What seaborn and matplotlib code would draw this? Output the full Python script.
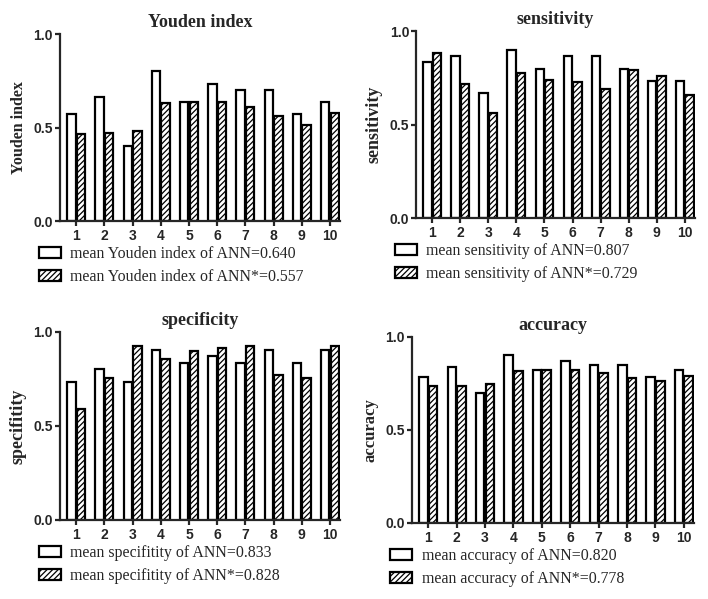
import matplotlib
matplotlib.use("Agg")
import matplotlib.pyplot as plt
import pandas as pd
import seaborn as sns

# values per fold
folds = [str(i) for i in range(1, 11)]

youden_ann = [0.571, 0.666, 0.402, 0.804, 0.636, 0.732, 0.702, 0.702, 0.571, 0.636]
youden_star = [0.466, 0.471, 0.480, 0.630, 0.636, 0.636, 0.611, 0.562, 0.516, 0.580]

sens_ann = [0.833, 0.867, 0.669, 0.900, 0.800, 0.867, 0.867, 0.800, 0.735, 0.735]
sens_star = [0.883, 0.715, 0.560, 0.778, 0.737, 0.726, 0.690, 0.792, 0.760, 0.658]

spec_ann = [0.735, 0.803, 0.735, 0.902, 0.835, 0.869, 0.835, 0.902, 0.835, 0.902]
spec_star = [0.588, 0.755, 0.925, 0.856, 0.900, 0.915, 0.925, 0.769, 0.755, 0.925]

acc_ann = [0.783, 0.835, 0.697, 0.901, 0.819, 0.869, 0.849, 0.849, 0.783, 0.819]
acc_star = [0.733, 0.737, 0.744, 0.817, 0.819, 0.819, 0.805, 0.780, 0.760, 0.789]

panels = [
    ("Youden index", "Youden index", youden_ann, youden_star,
     "mean Youden index of ANN=0.640", "mean Youden index of ANN*=0.557"),
    ("sensitivity", "sensitivity", sens_ann, sens_star,
     "mean sensitivity of ANN=0.807", "mean sensitivity of ANN*=0.729"),
    ("specificity", "specifitity", spec_ann, spec_star,
     "mean specifitity of ANN=0.833", "mean specifitity of ANN*=0.828"),
    ("accuracy", "accuracy", acc_ann, acc_star,
     "mean accuracy of ANN=0.820", "mean accuracy of ANN*=0.778"),
]

# axes boxes in figure fraction, and y label sizes
boxes = [
    [0.085, 0.631, 0.395, 0.312],
    [0.588, 0.636, 0.393, 0.312],
    [0.085, 0.132, 0.395, 0.314],
    [0.582, 0.127, 0.398, 0.311],
]
ylab_sizes = [11.5, 13, 13, 12]

sns.set_style("ticks")
plt.rcParams["font.family"] = ["Liberation Sans", "DejaVu Sans"]
plt.rcParams["hatch.linewidth"] = 0.9

serif = ["Liberation Serif", "DejaVu Serif"]

fig = plt.figure(figsize=(7.08, 5.99), dpi=100)

for (title, ylab, ann, star, lab1, lab2), box, ysz in zip(panels, boxes, ylab_sizes):
    ax = fig.add_axes(box)
    df = pd.DataFrame({
        "fold": folds + folds,
        "model": ["ANN"] * 10 + ["ANN*"] * 10,
        "value": ann + star,
    })
    sns.barplot(data=df, x="fold", y="value", hue="model",
                palette=["white", "white"], edgecolor="black", linewidth=1.6,
                width=0.68, gap=0.12, legend=False, ax=ax)
    for bar in ax.containers[1]:
        bar.set_hatch("//////")

    ax.set_ylim(0, 1.0)
    ax.set_xlim(-0.57, 9.35)
    ax.set_yticks([0, 0.5, 1.0])
    ax.set_yticklabels(["0.0", "0.5", "1.0"])
    for lbl in ax.get_xticklabels() + ax.get_yticklabels():
        lbl.set_fontweight("bold")
        lbl.set_fontsize(10)
    ax.tick_params(axis="y", length=3.6, width=1.6, pad=1.5)
    ax.tick_params(axis="x", length=3.5, width=1.6, pad=2)
    for s in ["left", "bottom"]:
        ax.spines[s].set_linewidth(1.6)
    sns.despine(ax=ax)
    ax.set_xlabel("")
    ax.set_ylabel(ylab, family=serif, fontweight="bold", fontsize=ysz, labelpad=5)
    ax.set_title(title, family=serif, fontweight="bold", fontsize=13, pad=5)

    handles = [ax.containers[0][0], ax.containers[1][0]]
    ax.legend(handles, [lab1, lab2], loc="upper left", bbox_to_anchor=(-0.1, -0.1),
              frameon=False, prop={"family": serif, "size": 11.4},
              handlelength=1.4, handleheight=0.65, handletextpad=0.6,
              labelspacing=0.45, borderaxespad=0)

fig.savefig("out.png", dpi=100, facecolor="white")
